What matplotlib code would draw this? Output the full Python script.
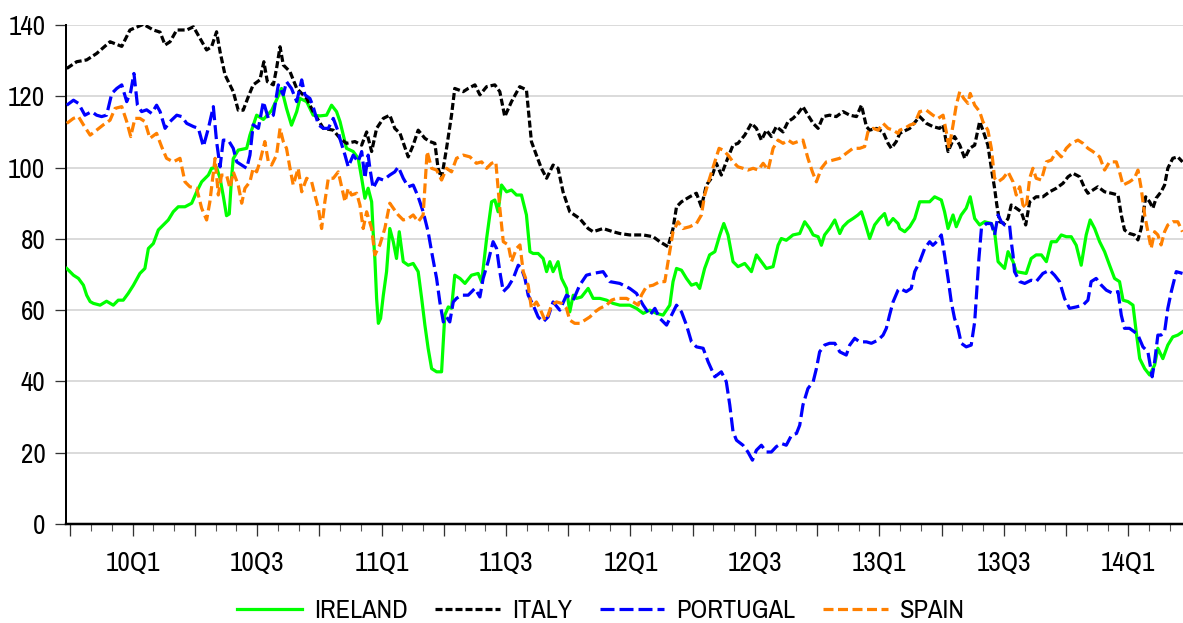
import matplotlib
matplotlib.use("Agg")
import matplotlib.pyplot as plt
from matplotlib import font_manager
from matplotlib.ticker import FixedLocator, NullFormatter, FixedFormatter

# prefer a narrow Arial-like face if one is installed
narrow = None
cands = [f for f in font_manager.fontManager.ttflist
         if 'narrow' in f.name.lower() and f.weight in (400, 'normal', 'regular') and f.style == 'normal']
for pref in ['liberation sans narrow', 'arial narrow']:
    for f in cands:
        if f.name.lower() == pref:
            narrow = f.name
            break
    if narrow:
        break
if narrow is None and cands:
    narrow = cands[0].name
if narrow:
    plt.rcParams['font.family'] = [narrow, 'DejaVu Sans']
    tick_fs, leg_fs = 19.5, 19
else:
    plt.rcParams['font.family'] = ['Liberation Sans', 'DejaVu Sans']
    tick_fs, leg_fs = 16, 16
plt.rcParams['lines.scale_dashes'] = False

# ---------------- data (x in decimal years) ----------------
italy_t = [2009.735,2009.775,2009.815,2009.855,2009.909,2009.956,2009.989,2010.043,2010.083,2010.110,
           2010.130,2010.150,2010.177,2010.217,2010.244,2010.270,2010.297,2010.317,2010.337,2010.351,
           2010.371,2010.404,2010.424,2010.444,2010.464,2010.484,2010.511,2010.527,2010.541,2010.565,
           2010.578,2010.592,2010.605,2010.632,2010.659,2010.699,2010.725,2010.766,2010.806,
           2010.833,2010.859,2010.893,2010.920,2010.940,2010.960,2010.980,2011.007,2011.033,2011.053,
           2011.074,2011.107,2011.127,2011.147,2011.174,2011.194,2011.214,2011.227,2011.241,2011.261,
           2011.281,2011.294,2011.328,2011.348,2011.375,2011.395,2011.422,2011.455,2011.475,2011.495,
           2011.522,2011.555,2011.582,2011.602,2011.622,2011.642,2011.663,2011.689,2011.709,2011.729,
           2011.756,2011.796,2011.830,2011.850,2011.890,2011.930,
           2011.957,2011.997,2012.051,2012.091,2012.118,2012.151,2012.171,2012.185,2012.205,2012.238,
           2012.265,2012.285,2012.305,2012.325,2012.345,2012.365,2012.385,2012.412,2012.432,2012.459,
           2012.486,2012.506,2012.526,2012.546,2012.566,2012.586,2012.613,2012.633,2012.653,2012.673,
           2012.693,2012.713,2012.734,2012.754,2012.774,2012.800,2012.827,2012.854,2012.881,2012.908,
           2012.928,2012.948,2012.961,2012.988,2013.015,2013.035,2013.048,2013.068,
           2013.082,2013.122,2013.162,2013.189,2013.215,2013.242,2013.256,2013.276,2013.302,2013.323,
           2013.343,2013.363,2013.383,2013.403,2013.416,2013.436,2013.450,2013.463,2013.472,2013.483,
           2013.503,2013.517,2013.530,2013.550,2013.570,2013.588,2013.604,2013.630,2013.657,2013.684,
           2013.711,2013.738,2013.758,2013.778,2013.805,2013.825,2013.838,2013.858,2013.878,2013.905,
           2013.932,2013.959,2013.972,2013.985,2014.005,2014.025,2014.039,2014.052,2014.070,2014.086,
           2014.099,2014.112,2014.132,2014.146,2014.159,2014.179,2014.199,2014.218]
italy = [127.8,129.7,130.2,132.0,135.3,134.0,138.6,140.2,138.6,138.0,
         134.4,135.3,138.6,138.6,139.5,136.3,133.0,133.9,138.1,132.5,
         126.0,121.3,116.1,116.1,119.8,123.2,124.6,129.7,124.1,123.2,
         127.8,133.9,128.8,126.9,122.2,119.4,115.7,111.0,110.5,
         108.2,106.8,107.3,106.3,110.0,104.5,111.0,113.8,114.7,111.0,
         109.6,103.0,106.3,110.5,108.2,107.3,106.8,99.8,97.0,105.4,
         114.7,122.2,121.3,122.2,123.2,120.4,122.7,123.2,121.3,114.3,
         118.5,122.7,121.8,107.3,103.5,99.8,97.0,100.7,99.8,93.2,
         87.6,85.7,82.9,82.0,82.9,82.0,
         81.5,81.1,81.1,80.6,79.2,77.8,82.9,89.0,90.4,91.8,
         92.8,89.0,95.1,97.0,101.2,97.9,101.6,106.3,106.8,109.1,
         112.4,111.0,107.7,110.5,108.7,111.5,110.0,112.9,113.8,115.2,
         117.1,114.7,112.4,111.0,114.3,114.7,114.3,115.7,114.7,114.3,
         117.5,111.5,110.5,111.0,110.0,106.8,105.4,107.3,
         109.6,111.0,114.3,112.4,111.5,111.0,112.0,104.5,108.7,106.3,
         102.6,105.4,106.3,112.9,110.5,106.3,99.8,94.2,89.5,84.8,
         84.3,85.7,89.5,88.6,87.6,83.9,90.4,91.8,91.8,93.2,
         94.2,95.6,97.4,98.4,97.4,94.2,92.8,93.7,94.6,93.2,
         92.8,92.3,86.7,82.5,81.5,81.1,79.7,82.9,91.8,90.4,
         88.6,91.4,93.2,95.1,99.8,102.6,103.0,101.6]

ireland_t = [2009.735,2009.762,2009.782,2009.802,2009.815,2009.829,2009.842,2009.869,2009.895,2009.922,
             2009.942,2009.962,2009.982,2010.003,2010.029,2010.049,2010.063,2010.083,2010.103,2010.123,
             2010.143,2010.163,2010.183,2010.210,2010.237,2010.257,2010.277,2010.304,2010.317,2010.337,
             2010.351,2010.364,2010.377,2010.388,2010.397,2010.404,2010.424,2010.458,2010.471,2010.498,
             2010.525,2010.558,2010.578,2010.598,2010.618,2010.638,2010.659,2010.672,2010.699,2010.725,
             2010.752,2010.779,2010.799,2010.819,
             2010.833,2010.859,2010.886,2010.906,2010.920,2010.933,2010.946,2010.960,2010.966,2010.973,
             2010.980,2010.987,2010.996,2011.007,2011.020,2011.033,2011.047,2011.060,2011.071,2011.087,
             2011.107,2011.127,2011.147,2011.161,2011.174,2011.187,2011.201,2011.221,2011.241,2011.254,
             2011.268,2011.281,2011.294,2011.315,2011.335,2011.361,2011.388,2011.402,2011.422,2011.442,
             2011.455,2011.468,2011.482,2011.502,2011.522,2011.542,2011.562,2011.582,2011.596,2011.609,
             2011.629,2011.649,2011.663,2011.676,2011.689,2011.709,2011.723,2011.743,2011.756,2011.770,
             2011.783,2011.803,2011.830,2011.850,2011.877,2011.904,2011.930,2011.957,
             2011.997,2012.024,2012.051,2012.078,2012.104,2012.131,2012.158,2012.171,2012.185,2012.205,
             2012.225,2012.245,2012.265,2012.278,2012.298,2012.318,2012.339,2012.359,2012.375,2012.392,
             2012.412,2012.432,2012.459,2012.486,2012.506,2012.526,2012.546,2012.573,2012.593,2012.606,
             2012.626,2012.653,2012.680,2012.700,2012.720,2012.734,2012.754,2012.767,2012.780,2012.800,
             2012.821,2012.841,2012.854,2012.874,2012.894,2012.914,2012.928,2012.941,2012.961,2012.981,
             2013.001,2013.021,2013.035,2013.055,2013.075,
             2013.082,2013.102,2013.122,2013.142,2013.162,2013.182,2013.202,2013.222,2013.249,2013.262,
             2013.276,2013.296,2013.309,2013.329,2013.349,2013.365,2013.383,2013.403,2013.423,2013.450,
             2013.463,2013.477,2013.503,2013.517,2013.537,2013.550,2013.590,2013.610,2013.630,2013.651,
             2013.671,2013.691,2013.711,2013.731,2013.751,2013.771,2013.791,2013.811,2013.831,2013.847,
             2013.865,2013.885,2013.905,2013.925,2013.945,2013.965,2013.979,2013.999,2014.019,2014.032,
             2014.046,2014.066,2014.086,2014.106,2014.119,2014.139,2014.159,2014.179,2014.199,2014.218]
ireland = [71.7,69.8,68.9,67.0,64.2,62.4,61.9,61.4,62.5,61.4,
           62.8,62.8,64.7,67.0,70.3,71.7,77.3,78.7,82.5,83.9,
           85.3,87.6,89.0,89.0,90.0,93.2,96.0,97.9,99.8,100.0,
           97.0,92.0,86.5,87.0,97.0,102.5,104.9,105.4,109.1,114.7,
           113.5,116.0,119.0,122.2,116.6,111.9,115.7,119.4,118.5,114.7,
           114.5,114.7,117.5,115.7,
           112.9,105.4,104.5,102.6,97.0,91.4,94.2,90.4,82.0,74.5,
           63.3,56.3,57.7,64.2,70.8,82.9,79.2,74.5,82.0,73.6,
           72.6,73.1,70.8,63.3,55.8,49.3,43.6,42.7,42.7,58.6,
           60.9,60.5,69.8,68.9,67.5,69.8,70.3,67.9,80.1,90.4,
           90.9,87.6,95.1,93.2,93.7,92.3,92.3,86.7,76.4,75.9,
           75.9,74.5,70.8,73.6,70.8,73.6,68.9,66.1,59.5,64.2,
           63.3,63.7,66.1,63.3,63.3,62.8,61.9,61.4,
           61.4,60.5,59.1,60.0,59.1,58.6,61.4,68.0,71.7,71.2,
           68.9,67.0,67.5,66.1,71.7,75.5,76.4,81.1,84.3,81.1,
           73.6,72.2,73.1,70.8,75.5,73.6,71.7,72.2,78.2,80.1,
           79.6,81.1,81.5,84.8,82.9,81.1,80.6,78.2,81.1,82.9,
           85.3,81.5,83.4,84.8,85.7,86.7,87.6,84.8,80.1,83.9,
           85.7,87.1,83.9,85.7,84.3,
           82.9,82.0,83.4,85.7,90.4,90.4,90.4,91.8,90.9,87.6,
           82.9,86.7,83.4,86.7,88.6,91.8,85.7,83.9,84.8,84.3,
           82.0,73.6,71.7,76.4,73.6,70.8,70.3,74.5,75.5,75.5,
           73.6,79.2,79.2,81.1,80.6,80.6,78.2,72.6,81.1,85.3,
           82.9,79.2,76.4,72.6,68.9,68.0,62.8,62.4,61.4,53.9,
           46.4,43.6,41.8,44.6,49.3,46.4,50.2,52.5,53.0,53.9]

portugal_t = [2009.735,2009.762,2009.782,2009.808,2009.835,2009.855,2009.875,2009.895,2009.916,2009.936,
              2009.956,2009.976,2009.992,2010.005,2010.019,2010.036,2010.056,2010.076,2010.096,2010.110,
              2010.130,2010.150,2010.177,2010.197,2010.217,2010.244,2010.264,2010.284,2010.304,2010.324,
              2010.337,2010.351,2010.364,2010.384,2010.404,2010.418,2010.438,2010.458,2010.471,2010.484,
              2010.505,2010.525,2010.545,2010.565,2010.585,2010.605,2010.618,2010.638,2010.659,2010.679,
              2010.692,2010.712,2010.725,2010.746,2010.766,2010.786,2010.806,2010.826,
              2010.833,2010.853,2010.866,2010.886,2010.906,2010.920,2010.933,2010.946,2010.953,2010.966,
              2010.987,2011.007,2011.033,2011.053,2011.067,2011.087,2011.107,2011.127,2011.147,2011.167,
              2011.187,2011.201,2011.221,2011.234,2011.248,2011.261,2011.274,2011.288,2011.301,2011.321,
              2011.348,2011.375,2011.395,2011.408,2011.428,2011.448,2011.462,2011.475,2011.489,2011.509,
              2011.529,2011.549,2011.562,2011.576,2011.589,2011.609,2011.629,2011.649,2011.669,2011.689,
              2011.716,2011.743,2011.770,2011.796,2011.823,2011.850,2011.890,2011.917,2011.957,
              2011.997,2012.024,2012.051,2012.078,2012.098,2012.118,2012.145,2012.165,2012.185,2012.205,
              2012.225,2012.245,2012.265,2012.292,2012.312,2012.339,2012.365,2012.385,2012.399,2012.412,
              2012.426,2012.452,2012.472,2012.490,2012.506,2012.526,2012.546,2012.566,2012.586,2012.606,
              2012.626,2012.647,2012.667,2012.680,2012.693,2012.713,2012.734,2012.747,2012.760,2012.780,
              2012.800,2012.821,2012.841,2012.867,2012.881,2012.901,2012.921,2012.948,2012.968,2012.995,
              2013.015,2013.028,2013.041,2013.055,2013.075,
              2013.082,2013.108,2013.128,2013.142,2013.162,2013.182,2013.202,2013.215,2013.236,2013.249,
              2013.262,2013.276,2013.289,2013.302,2013.316,2013.329,2013.349,2013.369,2013.383,2013.392,
              2013.400,2013.410,2013.430,2013.450,2013.463,2013.477,2013.490,2013.503,2013.523,2013.530,
              2013.537,2013.543,2013.564,2013.584,2013.610,2013.630,2013.657,2013.684,2013.704,2013.724,
              2013.744,2013.764,2013.791,2013.818,2013.838,2013.851,2013.871,2013.892,2013.912,2013.938,
              2013.959,2013.972,2013.985,2014.005,2014.025,2014.039,2014.059,2014.079,2014.096,2014.106,
              2014.119,2014.132,2014.146,2014.159,2014.173,2014.193,2014.218]
portugal = [117.5,118.9,118.0,114.7,115.7,114.7,114.3,114.7,120.8,122.2,
            123.2,118.5,121.3,126.4,117.5,115.7,116.2,115.2,117.5,115.7,
            111.0,112.9,114.7,114.3,112.4,111.5,111.0,105.9,111.0,117.1,
            107.3,100.2,107.7,107.7,105.4,101.6,100.7,99.8,103.5,112.0,
            111.0,118.5,113.8,114.7,123.2,120.4,124.1,122.2,118.5,124.6,
            120.4,119.4,117.1,112.0,111.0,111.0,113.8,110.0,
            108.0,103.5,100.2,103.5,101.6,104.5,97.0,103.5,99.8,94.2,
            97.0,96.5,97.9,98.8,100.2,97.0,94.6,95.1,91.8,87.6,
            82.0,76.4,68.9,62.3,56.7,58.1,56.7,62.3,63.3,64.2,
            64.2,66.1,63.7,68.9,73.6,79.2,77.3,70.8,65.2,66.6,
            68.9,72.6,71.7,68.9,64.2,61.4,58.1,56.7,58.1,62.3,
            60.0,64.2,62.8,67.0,69.8,70.3,70.8,68.0,67.5,
            66.1,64.7,61.4,58.6,60.5,57.7,55.8,58.6,61.4,59.5,
            55.8,51.1,49.7,49.3,45.5,41.3,42.7,39.9,33.4,25.9,
            23.5,22.1,20.2,17.9,20.7,22.1,20.2,20.2,21.7,22.6,
            22.1,24.9,25.4,27.7,33.4,38.0,39.9,43.6,48.3,50.2,
            50.7,50.7,48.3,47.4,50.2,52.1,51.1,51.1,50.7,51.6,
            53.0,54.9,58.6,62.3,65.6,
            66.1,65.2,66.1,70.8,73.6,77.3,79.2,78.2,79.6,81.1,
            75.5,68.9,62.3,57.7,54.9,50.7,49.7,50.2,56.7,66.1,
            74.5,82.9,84.3,84.3,81.1,86.7,84.8,83.9,83.9,79.2,
            75.5,70.8,68.0,67.5,68.4,68.0,70.3,71.2,69.8,68.0,
            63.3,60.5,60.9,61.4,62.8,68.0,68.9,67.0,65.6,64.7,
            65.2,58.6,54.9,54.9,53.9,53.0,49.7,48.3,41.3,45.5,
            53.0,53.0,53.9,60.5,65.2,70.8,70.3]

spain_t = [2009.735,2009.762,2009.782,2009.802,2009.829,2009.855,2009.882,2009.909,2009.929,2009.956,
           2009.976,2009.992,2010.009,2010.029,2010.049,2010.069,2010.096,2010.116,2010.136,2010.163,
           2010.190,2010.210,2010.230,2010.257,2010.277,2010.297,2010.310,2010.331,2010.344,2010.357,
           2010.377,2010.391,2010.404,2010.424,2010.438,2010.451,2010.471,2010.484,2010.498,2010.511,
           2010.531,2010.545,2010.558,2010.578,2010.592,2010.605,2010.618,2010.632,2010.645,2010.665,
           2010.679,2010.699,2010.719,2010.732,2010.746,2010.759,2010.772,2010.786,2010.806,2010.826,
           2010.853,2010.866,2010.879,2010.900,2010.913,2010.926,2010.940,2010.960,2010.973,2010.993,
           2011.013,2011.033,2011.047,2011.067,2011.087,2011.107,2011.127,2011.147,2011.167,2011.183,
           2011.201,2011.221,2011.241,2011.261,2011.281,2011.301,2011.328,2011.355,2011.381,2011.402,
           2011.422,2011.442,2011.459,2011.475,2011.489,2011.509,2011.522,2011.542,2011.556,2011.569,
           2011.589,2011.602,2011.622,2011.636,2011.656,2011.669,2011.683,2011.703,2011.723,2011.743,
           2011.756,2011.776,2011.796,2011.817,2011.837,2011.857,2011.877,2011.904,2011.924,2011.944,
           2011.984,2012.011,2012.031,2012.044,2012.064,2012.091,2012.118,2012.138,2012.151,2012.171,
           2012.191,2012.211,2012.238,2012.265,2012.285,2012.298,2012.318,2012.339,2012.356,2012.372,
           2012.392,2012.412,2012.432,2012.452,2012.472,2012.493,2012.513,2012.533,2012.553,2012.573,
           2012.593,2012.613,2012.633,2012.653,2012.673,2012.693,2012.713,2012.731,2012.747,2012.767,
           2012.787,2012.814,2012.841,2012.867,2012.894,2012.921,2012.941,2012.954,2012.975,2012.995,
           2013.015,2013.035,2013.055,2013.075,
           2013.082,2013.102,2013.122,2013.142,2013.162,2013.189,2013.215,2013.236,2013.256,2013.269,
           2013.280,2013.296,2013.309,2013.323,2013.339,2013.356,2013.365,2013.383,2013.403,2013.416,
           2013.436,2013.450,2013.463,2013.477,2013.497,2013.517,2013.537,2013.550,2013.564,2013.577,
           2013.590,2013.604,2013.617,2013.630,2013.651,2013.671,2013.691,2013.711,2013.731,2013.751,
           2013.771,2013.798,2013.818,2013.838,2013.858,2013.885,2013.905,2013.925,2013.952,2013.965,
           2013.979,2014.005,2014.025,2014.039,2014.052,2014.066,2014.079,2014.092,2014.106,2014.119,
           2014.132,2014.146,2014.159,2014.179,2014.199,2014.218]
spain = [112.4,113.8,114.3,112.0,109.1,110.5,112.0,113.3,116.6,117.1,
         112.9,108.7,113.8,113.8,112.9,108.2,109.6,105.9,102.6,101.6,
         102.6,96.0,94.6,94.2,88.6,85.3,90.4,102.6,92.3,97.9,
         97.9,94.2,98.8,95.1,90.0,94.2,96.0,99.8,98.8,101.6,
         107.3,101.6,100.7,103.5,111.0,107.3,105.4,99.8,95.1,99.8,
         93.2,97.0,96.0,92.3,88.6,82.9,90.4,97.0,97.0,98.8,
         90.4,94.2,92.3,92.8,89.5,82.9,87.6,82.9,75.5,78.3,
         82.9,90.0,88.6,86.7,85.3,85.7,86.7,84.8,86.7,104.5,
         99.8,99.3,96.5,99.8,98.8,102.6,103.5,103.0,101.2,101.6,
         99.8,101.2,101.6,88.6,79.2,78.3,73.6,77.3,78.3,70.8,
         67.0,60.5,62.3,60.5,57.2,58.6,61.4,62.3,61.9,60.5,
         57.2,56.3,56.3,57.2,58.1,59.5,60.5,61.4,62.8,63.3,
         63.3,62.3,61.4,64.2,66.6,67.0,68.0,68.0,73.6,82.0,
         84.8,82.9,83.4,84.3,86.7,92.3,97.0,101.6,105.4,104.9,
         103.5,101.6,100.2,99.8,99.3,99.8,99.3,101.2,99.3,105.4,
         107.7,106.8,107.7,106.8,107.3,107.7,102.6,98.8,96.0,99.8,
         101.6,102.1,102.6,104.0,105.4,105.4,105.9,110.0,111.0,110.5,
         112.4,111.0,110.5,109.6,
         110.5,111.0,111.9,112.4,115.7,116.1,114.7,113.8,114.7,110.0,
         105.4,111.9,117.5,121.3,119.4,118.0,120.8,117.5,115.7,112.9,
         110.5,105.4,97.0,96.0,97.0,98.8,96.0,92.3,94.6,89.5,
         88.6,97.0,99.8,97.0,96.5,101.6,102.1,104.5,103.0,105.4,
         106.8,107.7,106.8,105.4,104.5,103.0,99.3,101.6,101.6,98.8,
         95.1,96.0,97.0,99.3,94.2,86.7,82.0,77.3,82.0,81.1,
         78.3,82.0,83.9,84.8,84.8,82.0]

series_names = ["IRELAND", "ITALY", "PORTUGAL", "SPAIN"]
y_ticks = [0, 20, 40, 60, 80, 100, 120, 140]
x_label_pos = [2010.0, 2010.5, 2011.0, 2011.5, 2012.0, 2012.5, 2013.0, 2013.5, 2014.0]
x_labels = ["10Q1", "10Q3", "11Q1", "11Q3", "12Q1", "12Q3", "13Q1", "13Q3", "14Q1"]

# ---------------- figure ----------------
fig = plt.figure(figsize=(11.83, 6.23), dpi=100)
ax = fig.add_axes([66/1183, 1 - 524/623, 1 - 66/1183, (524 - 25)/623])

px = 0.72  # points per pixel
lw = 3.2 * px
ax.plot(ireland_t, ireland, color="#00FF00", lw=lw, label=series_names[0], zorder=3)
ax.plot(italy_t, italy, color="#000000", lw=lw, dashes=(7*px, 3*px), label=series_names[1], zorder=4)
ax.plot(portugal_t, portugal, color="#0000FF", lw=lw, dashes=(14*px, 5*px), label=series_names[2], zorder=5)
ax.plot(spain_t, spain, color="#FF8000", lw=lw, dashes=(10*px, 4.5*px), label=series_names[3], zorder=6)

ax.set_xlim(2009.732, 2014.220)
ax.set_ylim(0, 140)

ax.set_yticks(y_ticks)
ax.yaxis.grid(True, color="#D0D0D0", lw=1.5*px, zorder=0)
ax.set_axisbelow(True)

major = [2009.75 + 0.25 * k for k in range(18)]
minor = [2009.75 + k / 12 for k in range(54)]
ax.xaxis.set_major_locator(FixedLocator(major))
ax.xaxis.set_minor_locator(FixedLocator(minor))
lab = []
for m in major:
    hit = [l for p, l in zip(x_label_pos, x_labels) if abs(p - m) < 1e-6]
    lab.append(hit[0] if hit else "")
ax.xaxis.set_major_formatter(FixedFormatter(lab))
ax.xaxis.set_minor_formatter(NullFormatter())

ax.tick_params(axis="x", which="major", direction="out", length=12*px, width=1.3*px,
               color="#333333", labelsize=tick_fs, pad=10.5)
ax.tick_params(axis="x", which="minor", direction="out", length=7*px, width=1.1*px, color="#555555")
ax.tick_params(axis="y", which="major", direction="out", length=11*px, width=1.3*px,
               color="#333333", labelsize=tick_fs, pad=7)

for s in ["top", "right"]:
    ax.spines[s].set_visible(False)
ax.spines["left"].set_linewidth(2*px)
ax.spines["bottom"].set_linewidth(2.5*px)

leg = fig.legend(loc="center", bbox_to_anchor=(0.508, 1 - 611/623), ncol=4, frameon=False,
                 fontsize=leg_fs, handlelength=2.45, handletextpad=0.45, columnspacing=1.05)

fig.savefig("out.png", dpi=100)
